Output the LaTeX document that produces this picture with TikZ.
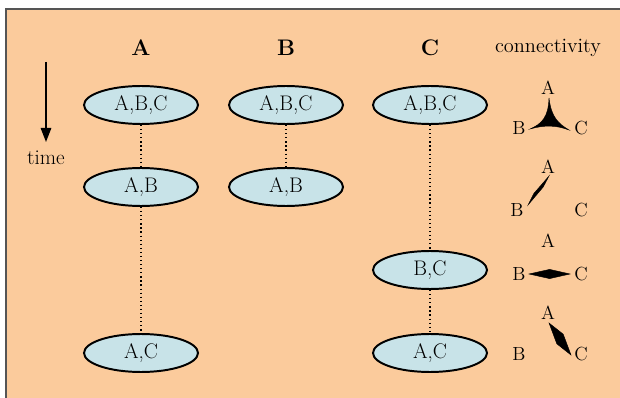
\documentclass[tikz,border=0pt]{standalone}
\usetikzlibrary{shapes.geometric, arrows.meta, positioning}
\definecolor{panelbg}{HTML}{FBCB9C}
\definecolor{panelline}{HTML}{555555}
\definecolor{setfill}{HTML}{C8E3E8}

\begin{document}
\begin{tikzpicture}[
    setnode/.style={ellipse, draw=black, line width=1.4pt, fill=setfill, minimum width=28.5mm, minimum height=9.5mm, inner sep=0pt, font=\fontsize{15}{17}\selectfont},
    head/.style={font=\fontsize{16}{18}\selectfont\bfseries},
    lbl/.style={font=\fontsize{13.5}{15}\selectfont, inner sep=0pt},
    link/.style={line width=0.9pt, dash pattern=on 0.9pt off 2pt},
    glyph/.style={fill=black, draw=black, line width=0.3pt}
]

\useasboundingbox (0,0) rectangle (15.5,9.925);

% Panel
\draw[panelline, line width=1pt, fill=panelbg] (0.15,-0.5) rectangle (16,9.7);

% Column heads
\node[head] (hA) at (3.525,8.725) {A};
\node[head] (hB) at (7.15,8.725) {B};
\node[head] (hC) at (10.75,8.725) {C};
\node[font=\fontsize{14.5}{16}\selectfont] (hconn) at (13.7,8.725) {connectivity};

% Time axis
\coordinate (t0) at (1.15,8.375);
\coordinate (t1) at (1.15,6.375);
\draw[-{Triangle[length=3.5mm, width=2.6mm]}, line width=1.2pt] (t0) -- (t1);
\node[font=\fontsize{15}{17}\selectfont] (time) at (1.15,5.975) {time};

% Sets in column A
\node[setnode] (a1) at (3.525,7.3) {A,B,C};
\node[setnode] (a2) at (3.525,5.25) {A,B};
\node[setnode] (a3) at (3.525,1.1) {A,C};

% Sets in column B
\node[setnode] (b1) at (7.15,7.3) {A,B,C};
\node[setnode] (b2) at (7.15,5.25) {A,B};

% Sets in column C
\node[setnode] (c1) at (10.75,7.3) {A,B,C};
\node[setnode] (c2) at (10.75,3.175) {B,C};
\node[setnode] (c3) at (10.75,1.1) {A,C};

% Dotted links
\draw[link] (a1) -- (a2);
\draw[link] (a2) -- (a3);
\draw[link] (b1) -- (b2);
\draw[link] (c1) -- (c2);
\draw[link] (c2) -- (c3);

% Connectivity, row 1
\node[lbl] (r1A) at (13.7,7.725) {A};
\node[lbl] (r1B) at (12.975,6.725) {B};
\node[lbl] (r1C) at (14.525,6.725) {C};
\draw[glyph] (13.725,7.475) .. controls (13.71,7.0) and (13.55,6.83) .. (13.25,6.7)
    .. controls (13.6,6.8) and (13.9,6.8) .. (14.225,6.675)
    .. controls (13.95,6.84) and (13.78,7.0) .. cycle;

% Connectivity, row 2
\node[lbl] (r2A) at (13.7,5.75) {A};
\node[lbl] (r2B) at (12.925,4.675) {B};
\node[lbl] (r2C) at (14.525,4.675) {C};
\draw[glyph] (13.725,5.525) -- (13.58,5.25) -- (13.2,4.8) -- (13.34,5.08) -- cycle;

% Connectivity, row 3
\node[lbl] (r3A) at (13.7,3.9) {A};
\node[lbl] (r3B) at (12.975,3.075) {B};
\node[lbl] (r3C) at (14.525,3.075) {C};
\draw[glyph] (13.225,3.075) -- (13.74,3.19) -- (14.25,3.075) -- (13.74,2.96) -- cycle;

% Connectivity, row 4
\node[lbl] (r4A) at (13.7,2.1) {A};
\node[lbl] (r4B) at (12.975,1.075) {B};
\node[lbl] (r4C) at (14.525,1.075) {C};
\draw[glyph] (13.725,1.85) -- (14.08,1.57) -- (14.275,1.05) -- (13.92,1.33) -- cycle;

\end{tikzpicture}
\end{document}
